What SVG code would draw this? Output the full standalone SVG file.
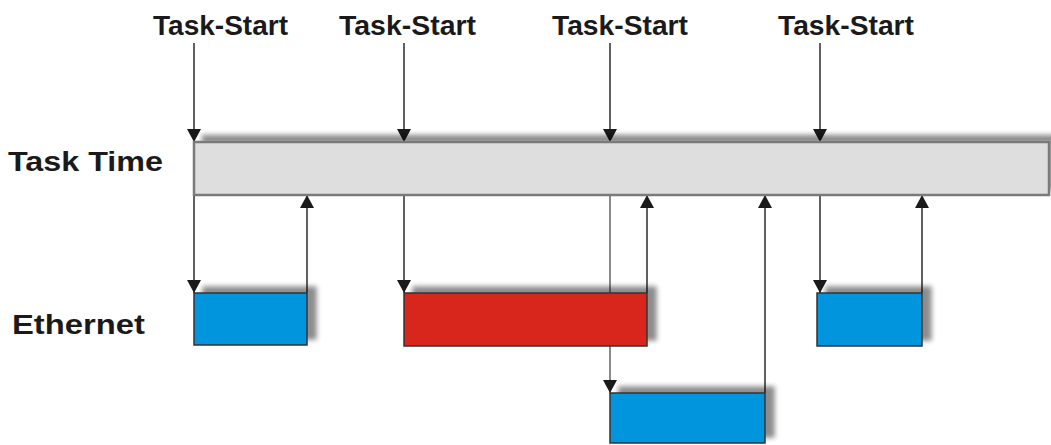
<svg xmlns="http://www.w3.org/2000/svg" width="1051" height="445" viewBox="0 0 1051 445">
<style>
.lbl{font-family:"Liberation Sans",Arial,sans-serif;font-weight:bold;font-size:27px;fill:#1a1a1a}
.conn{stroke:#606060;stroke-width:2;fill:none}
.box{stroke:#333;stroke-width:1.5}
.blue{fill:#0095dc}
.red{fill:#d9261c}
.bar{fill:#dedede;stroke:#7a7a7a;stroke-width:2.5}
</style>
<defs>
<filter id="sh" x="-20%" y="-40%" width="140%" height="180%">
<feGaussianBlur in="SourceAlpha" stdDeviation="2.5"/>
<feOffset dx="9" dy="-6" result="o"/>
<feComponentTransfer><feFuncA type="linear" slope="0.45"/></feComponentTransfer>
<feMerge><feMergeNode/><feMergeNode in="SourceGraphic"/></feMerge>
</filter>
<marker id="ah" markerWidth="14" markerHeight="14" refX="13" refY="7" orient="auto" markerUnits="userSpaceOnUse">
<path d="M0,0 L13,7 L0,14 Z" fill="#1a1a1a"/>
</marker>
</defs>
<g id="labels">
<text class="lbl" x="153" y="35" textLength="135" lengthAdjust="spacingAndGlyphs">Task-Start</text>
<text class="lbl" x="339" y="35" textLength="137" lengthAdjust="spacingAndGlyphs">Task-Start</text>
<text class="lbl" x="552" y="35" textLength="136" lengthAdjust="spacingAndGlyphs">Task-Start</text>
<text class="lbl" x="778" y="35" textLength="136" lengthAdjust="spacingAndGlyphs">Task-Start</text>
</g>
<g id="task-time-label"><text class="lbl" x="8" y="171" textLength="155" lengthAdjust="spacingAndGlyphs">Task Time</text></g>
<g id="ethernet-label"><text class="lbl" x="12" y="334" textLength="133" lengthAdjust="spacingAndGlyphs">Ethernet</text></g>
<g id="connectors">
<line class="conn" x1="194" y1="43" x2="194" y2="142" marker-end="url(#ah)"/>
<line class="conn" x1="404" y1="43" x2="404" y2="142" marker-end="url(#ah)"/>
<line class="conn" x1="610" y1="43" x2="610" y2="142" marker-end="url(#ah)"/>
<line class="conn" x1="820" y1="43" x2="820" y2="142" marker-end="url(#ah)"/>
<line class="conn" x1="194" y1="195" x2="194" y2="293" marker-end="url(#ah)"/>
<line class="conn" x1="404" y1="195" x2="404" y2="293" marker-end="url(#ah)"/>
<line class="conn" x1="610" y1="195" x2="610" y2="393" marker-end="url(#ah)" style="stroke:#8a8a8a"/>
<line class="conn" x1="820" y1="195" x2="820" y2="293" marker-end="url(#ah)"/>
<line class="conn" x1="307" y1="293" x2="307" y2="195" marker-end="url(#ah)"/>
<line class="conn" x1="647" y1="293" x2="647" y2="195" marker-end="url(#ah)"/>
<line class="conn" x1="765" y1="393" x2="765" y2="195" marker-end="url(#ah)"/>
<line class="conn" x1="922" y1="293" x2="922" y2="195" marker-end="url(#ah)"/>
</g>
<g id="task-time-bar"><rect class="bar" x="194" y="142" width="855" height="53" filter="url(#sh)"/></g>
<g id="eth-1"><rect class="box blue" x="194" y="293" width="113" height="52" filter="url(#sh)"/></g>
<g id="eth-2"><rect class="box red" x="404" y="293" width="243" height="53" filter="url(#sh)"/></g>
<g id="eth-3"><rect class="box blue" x="610" y="393" width="155" height="50" filter="url(#sh)"/></g>
<g id="eth-4"><rect class="box blue" x="817" y="293" width="105" height="53" filter="url(#sh)"/></g>
</svg>
